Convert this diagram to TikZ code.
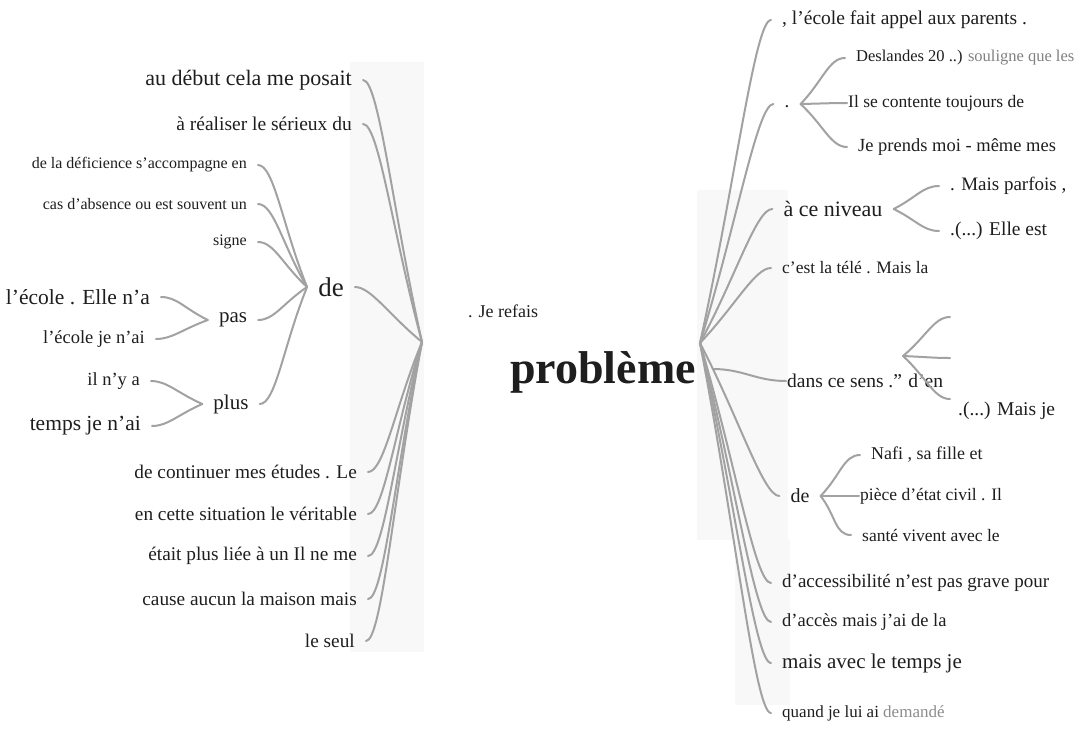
\documentclass[tikz,border=0pt]{standalone}
\usepackage{fontspec}
\setmainfont{Liberation Serif}
\usetikzlibrary{calc}
\definecolor{ink}{HTML}{1E1E1E}
\definecolor{wire}{HTML}{A2A2A2}
\definecolor{haze}{HTML}{F8F8F8}
\newcommand\fsz[1]{\fontsize{#1}{#1}\selectfont}
\tikzset{
  lleaf/.style={anchor=east, inner xsep=11pt, inner ysep=0pt, text=ink, font=\fsz{#1}},
  rleaf/.style={anchor=west, inner xsep=11pt, inner ysep=0pt, text=ink, font=\fsz{#1}},
  ctr/.style={inner xsep=11pt, inner ysep=0pt, text=ink, font=\fsz{#1}},
  branch/.style={draw=wire, line width=2pt, line cap=round},
}
% curved connector: leaves the hub towards the leaf and lands horizontally
\newcommand\brL[2]{\draw[branch] (#1) .. controls ($(#1)!0.5!(#2)$) and ($(#2)+(16,0)$) .. (#2);}
\newcommand\brR[2]{\draw[branch] (#1) .. controls ($(#1)!0.5!(#2)$) and ($(#2)+(-16,0)$) .. (#2);}
\begin{document}
\begin{tikzpicture}[x=1pt,y=-1pt]
\useasboundingbox (0,0) rectangle (1080,729);
% pale bands behind the fans
\fill[haze] (350,62) rectangle (424,652);
\fill[haze] (697,190) rectangle (788,540);
\fill[haze] (735,540) rectangle (790,705);

% centre
\node[inner sep=0pt, text=ink, font=\fsz{46}\bfseries] (P) at (603,372) {problème};
\node[rleaf=18] (J) at (457,311) {. Je refais};
\coordinate (LH) at (422,342);
\coordinate (RH) at (700,343);

% left side
\node[lleaf=22] (L1) at (363,80) {au début cela me posait};
\node[lleaf=19.5] (L2) at (363,124) {à réaliser le sérieux du};
\node[lleaf=16] (L3) at (258,165) {de la déficience s’accompagne en};
\node[lleaf=16] (L4) at (258,204) {cas d’absence ou est souvent un};
\node[lleaf=16] (L5) at (258,242) {signe};
\node[ctr=27] (LD) at (331,287) {de};
\node[ctr=21] (LP) at (233,320) {pas};
\node[ctr=21] (LQ) at (231,404) {plus};
\node[lleaf=21.5] (L6) at (161,297) {l’école . Elle n’a};
\node[lleaf=18.5] (L7) at (156,339) {l’école je n’ai};
\node[lleaf=18.5] (L8) at (151,381) {il n’y a};
\node[lleaf=21.5] (L9) at (152,426) {temps je n’ai};
\node[lleaf=19.3] (L10) at (368,472) {de continuer mes études . Le};
\node[lleaf=19.3] (L11) at (368,514) {en cette situation le véritable};
\node[lleaf=19.3] (L12) at (368,556) {était plus liée à un Il ne me};
\node[lleaf=19.3] (L13) at (368,599) {cause aucun la maison mais};
\node[lleaf=19.3] (L14) at (366,641) {le seul};

% right side
\node[rleaf=19.5] (R1) at (771,20) {, l’école fait appel aux parents .};
\node[ctr=19] (RD) at (787,104) {\strut.};
\node[rleaf=16.5] (R2) at (845,58) {Deslandes 20 ..) \textcolor{black!50}{souligne que les}};
\node[rleaf=17.5, inner xsep=1pt] (R3) at (847,103) {Il se contente toujours de};
\node[rleaf=18.5] (R4) at (847,147) {Je prends moi - même mes};
\node[ctr=22] (RN) at (833,209) {à ce niveau};
\node[rleaf=19] (R5) at (939,186) {. Mais parfois ,};
\node[rleaf=19.5] (R6) at (939,231) {.(...) Elle est};
\node[rleaf=17.5] (R7) at (771,268) {c’est la télé . Mais la};
\node[rleaf=19.5, inner xsep=1pt] (R8) at (786,381) {dans ce sens .” d’en};
\node[rleaf=19.5] (R9) at (947,411) {.(...) Mais je};
\coordinate (RS) at (903,356);
\coordinate (RS1) at (950,317);
\coordinate (RS2) at (950,358);
\coordinate (RS3) at (950,399);
\node[ctr=20] (RE) at (800,496) {de};
\node[rleaf=18] (R10) at (860,455) {Nafi , sa fille et};
\node[rleaf=17.5, inner xsep=1pt] (R11) at (859,496) {pièce d’état civil . Il};
\node[rleaf=17.5] (R12) at (851,535) {santé vivent avec le};
\node[rleaf=19] (R13) at (771,583) {d’accessibilité n’est pas grave pour};
\node[rleaf=18.5] (R14) at (771,622) {d’accès mais j’ai de la};
\node[rleaf=21] (R15) at (771,663) {mais avec le temps je};
\node[rleaf=17] (R16) at (771,713) {quand je lui ai \textcolor{black!45}{demandé}};

% left fan
\brL{LH}{L1.east}
\brL{LH}{L2.east}
\brL{LH}{LD.east}
\brL{LH}{L10.east}
\brL{LH}{L11.east}
\brL{LH}{L12.east}
\brL{LH}{L13.east}
\brL{LH}{L14.east}
\brL{LD.west}{L3.east}
\brL{LD.west}{L4.east}
\brL{LD.west}{L5.east}
\brL{LD.west}{LP.east}
\brL{LD.west}{LQ.east}
\brL{LP.west}{L6.east}
\brL{LP.west}{L7.east}
\brL{LQ.west}{L8.east}
\brL{LQ.west}{L9.east}

% right fan
\brR{RH}{R1.west}
\brR{RH}{RD.west}
\brR{RH}{RN.west}
\brR{RH}{R7.west}
\brR{RH}{RE.west}
\brR{RH}{R13.west}
\brR{RH}{R14.west}
\brR{RH}{R15.west}
\brR{RH}{R16.west}
\brR{RD.east}{R2.west}
\brR{RD.east}{R3.west}
\brR{RD.east}{R4.west}
\brR{RN.east}{R5.west}
\brR{RN.east}{R6.west}
\brR{RS}{RS1}
\brR{RS}{RS2}
\brR{RS}{RS3}
\brR{RE.east}{R10.west}
\brR{RE.east}{R11.west}
\brR{RE.east}{R12.west}
\draw[branch] ([xshift=17pt,yshift=3pt]P.east) .. controls +(30,0) and +(-30,0) .. (R8.west);
\end{tikzpicture}
\end{document}
